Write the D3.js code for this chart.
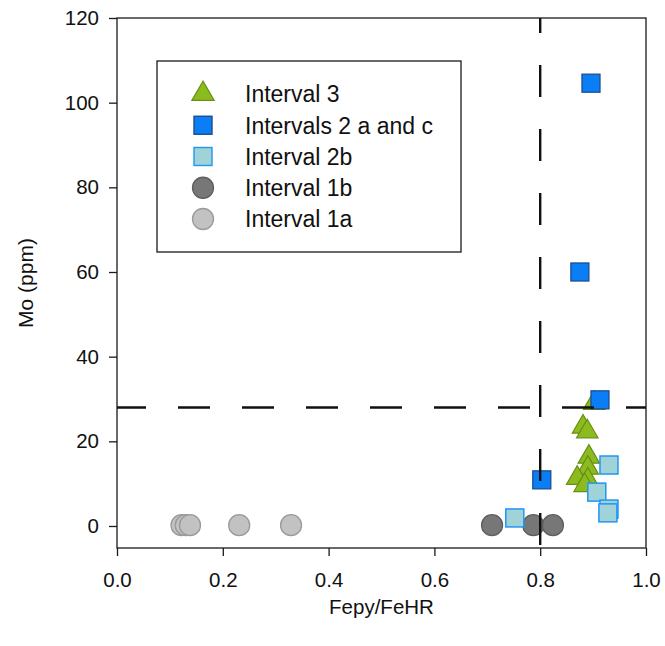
<!DOCTYPE html>
<html>
<head>
<meta charset="utf-8">
<script src="https://cdn.jsdelivr.net/npm/d3@7"></script>
<style>
  html, body { margin: 0; padding: 0; background: #fff; }
  svg { display: block; font-family: "Liberation Sans", Arial, sans-serif; }
</style>
</head>
<body>
<svg id="chart" width="665" height="646"></svg>
<script>
// Fepy/FeHR vs Mo, by stratigraphic interval
const interval3 = [
  [0.902, 29.0], [0.881, 23.4], [0.889, 22.3], [0.892, 16.3],
  [0.890, 13.7], [0.870, 11.3], [0.890, 10.9], [0.884, 9.6]
];
const interval1a = [
  [0.122, 0.2], [0.130, 0.2], [0.138, 0.2], [0.231, 0.2], [0.329, 0.2]
];
const interval1b = [
  [0.709, 0.2], [0.787, 0.2], [0.824, 0.2]
];
const interval2b = [
  [0.752, 1.9], [0.907, 8.0], [0.930, 14.4], [0.930, 4.0], [0.928, 3.1]
];
const interval2ac = [
  [0.803, 10.9], [0.913, 29.8], [0.875, 60.0], [0.896, 104.6]
];

const xTicks = [0.0, 0.2, 0.4, 0.6, 0.8, 1.0];
const yTicks = [0, 20, 40, 60, 80, 100, 120];
const moThreshold = 28;
const fepyThreshold = 0.8;

const legendLabels = ["Interval 3", "Intervals 2 a and c", "Interval 2b", "Interval 1b", "Interval 1a"];

const styles = {
  tri:   { fill: "#8cbb1f", stroke: "#688f12" },
  sqD:   { fill: "#0a7ef7", stroke: "#1c4f8c" },
  sqL:   { fill: "#a0d3d8", stroke: "#2196f3" },
  cirD:  { fill: "#777777", stroke: "#5e5e5e" },
  cirL:  { fill: "#c2c2c2", stroke: "#9a9a9a" }
};

const svg = d3.select("#chart");
const pLeft = 117, pRight = 646, pTop = 18, pBottom = 548;

const x = d3.scaleLinear().domain([0, 1]).range([pLeft, pRight]);
const y = d3.scaleLinear().domain([-5.2, 120]).range([pBottom, pTop]);

// frame
svg.append("rect")
  .attr("x", pLeft).attr("y", pTop)
  .attr("width", pRight - pLeft).attr("height", pBottom - pTop)
  .attr("fill", "none").attr("stroke", "#1a1a1a").attr("stroke-width", 1.3);

// axes
const xAxis = d3.axisBottom(x).tickValues(xTicks).tickFormat(d3.format(".1f"))
  .tickSize(8).tickPadding(16);
const gx = svg.append("g").attr("transform", `translate(0,${pBottom})`).call(xAxis);

const yAxis = d3.axisLeft(y).tickValues(yTicks).tickFormat(d3.format("d"))
  .tickSize(8).tickPadding(10);
const gy = svg.append("g").attr("transform", `translate(${pLeft},0)`).call(yAxis);

[gx, gy].forEach(g => {
  g.select(".domain").remove();
  g.selectAll(".tick line").attr("stroke", "#1a1a1a").attr("stroke-width", 1.3);
  g.selectAll(".tick text").attr("fill", "#111").style("font-size", "20.5px")
    .style("font-family", "'Liberation Sans', Arial, sans-serif");
});

// axis titles
svg.append("text")
  .attr("x", (pLeft + pRight) / 2).attr("y", 614)
  .attr("text-anchor", "middle").attr("fill", "#111")
  .style("font-size", "20.5px").text("Fepy/FeHR");

svg.append("text")
  .attr("transform", `translate(33,${(pTop + pBottom) / 2}) rotate(-90)`)
  .attr("text-anchor", "middle").attr("fill", "#111")
  .style("font-size", "21px").text("Mo (ppm)");

// point marks
const triPath = d3.symbol().type(d3.symbolTriangle).size(200)();
const sqSide = 18;
const cirR = 10.5;

const plot = svg.append("g");

plot.selectAll("path.i3").data(interval3).join("path")
  .attr("class", "i3").attr("d", triPath)
  .attr("transform", d => `translate(${x(d[0])},${y(d[1])})`)
  .attr("fill", styles.tri.fill).attr("stroke", styles.tri.stroke).attr("stroke-width", 1.2);

plot.selectAll("circle.i1a").data(interval1a).join("circle")
  .attr("class", "i1a").attr("cx", d => x(d[0])).attr("cy", d => y(d[1])).attr("r", cirR)
  .attr("fill", styles.cirL.fill).attr("stroke", styles.cirL.stroke).attr("stroke-width", 1.3);

plot.selectAll("circle.i1b").data(interval1b).join("circle")
  .attr("class", "i1b").attr("cx", d => x(d[0])).attr("cy", d => y(d[1])).attr("r", cirR)
  .attr("fill", styles.cirD.fill).attr("stroke", styles.cirD.stroke).attr("stroke-width", 1.3);

plot.selectAll("rect.i2b").data(interval2b).join("rect")
  .attr("class", "i2b")
  .attr("x", d => x(d[0]) - sqSide / 2).attr("y", d => y(d[1]) - sqSide / 2)
  .attr("width", sqSide).attr("height", sqSide)
  .attr("fill", styles.sqL.fill).attr("stroke", styles.sqL.stroke).attr("stroke-width", 1.5);

plot.selectAll("rect.i2ac").data(interval2ac).join("rect")
  .attr("class", "i2ac")
  .attr("x", d => x(d[0]) - sqSide / 2).attr("y", d => y(d[1]) - sqSide / 2)
  .attr("width", sqSide).attr("height", sqSide)
  .attr("fill", styles.sqD.fill).attr("stroke", styles.sqD.stroke).attr("stroke-width", 1.3);

// threshold lines
svg.append("line")
  .attr("x1", pLeft).attr("x2", pRight)
  .attr("y1", y(moThreshold)).attr("y2", y(moThreshold))
  .attr("stroke", "#111").attr("stroke-width", 2.4)
  .attr("stroke-dasharray", "32,32").attr("stroke-dashoffset", 3);

svg.append("line")
  .attr("x1", x(fepyThreshold)).attr("x2", x(fepyThreshold))
  .attr("y1", pTop).attr("y2", pBottom)
  .attr("stroke", "#111").attr("stroke-width", 2.4)
  .attr("stroke-dasharray", "32,32").attr("stroke-dashoffset", 17);

// legend
const lg = svg.append("g");
lg.append("rect")
  .attr("x", 157).attr("y", 61).attr("width", 304).attr("height", 191)
  .attr("fill", "#fff").attr("stroke", "#1a1a1a").attr("stroke-width", 1.3);

const legendStyles = [styles.tri, styles.sqD, styles.sqL, styles.cirD, styles.cirL];
const legendKinds = ["tri", "sq", "sq", "cir", "cir"];
const rowY = d3.scalePoint().domain(legendLabels).range([94, 219]);

legendLabels.forEach((lab, i) => {
  const cy = rowY(lab), cx = 203, st = legendStyles[i];
  if (legendKinds[i] === "tri") {
    lg.append("path").attr("d", d3.symbol().type(d3.symbolTriangle).size(215)())
      .attr("transform", `translate(${cx},${cy})`)
      .attr("fill", st.fill).attr("stroke", st.stroke).attr("stroke-width", 1.2);
  } else if (legendKinds[i] === "sq") {
    lg.append("rect").attr("x", cx - sqSide / 2).attr("y", cy - sqSide / 2)
      .attr("width", sqSide).attr("height", sqSide)
      .attr("fill", st.fill).attr("stroke", st.stroke).attr("stroke-width", 1.4);
  } else {
    lg.append("circle").attr("cx", cx).attr("cy", cy).attr("r", cirR)
      .attr("fill", st.fill).attr("stroke", st.stroke).attr("stroke-width", 1.3);
  }
  lg.append("text").attr("x", 245).attr("y", cy).attr("dy", "0.36em")
    .attr("fill", "#111").style("font-size", "23px").text(lab);
});
</script>
</body>
</html>
